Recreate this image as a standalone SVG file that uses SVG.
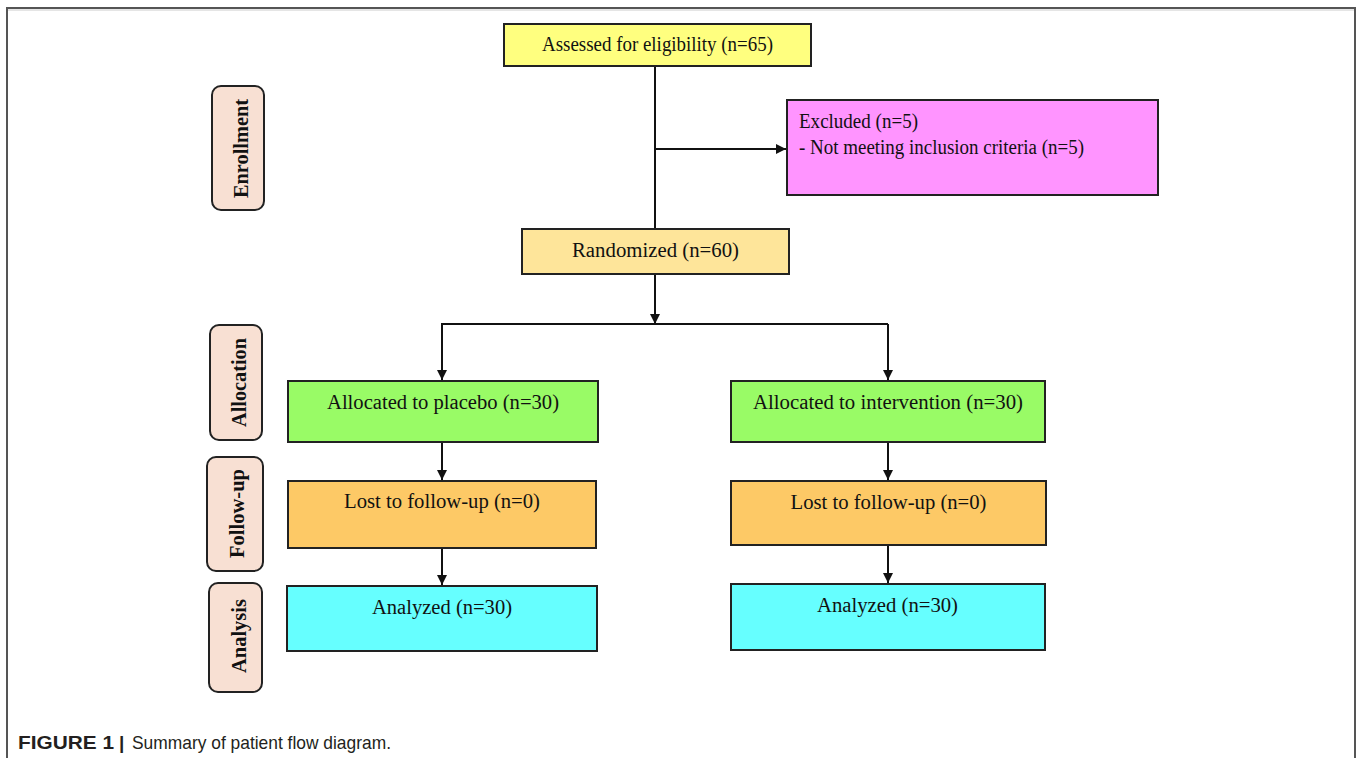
<svg xmlns="http://www.w3.org/2000/svg" width="1357" height="758" viewBox="0 0 1357 758">
<style>
.box{stroke:#222;stroke-width:2}
.side{fill:#F8E0D3;stroke:#222;stroke-width:2}
.t{font-family:"Liberation Serif","Times New Roman",serif;font-size:20.5px;fill:#111}
.st{font-family:"Liberation Serif","Times New Roman",serif;font-size:20px;font-weight:bold;fill:#111;text-anchor:middle}
.c{text-anchor:middle}
.ln{fill:none;stroke:#111;stroke-width:2}
.cap{font-family:"Liberation Sans",Arial,sans-serif;font-size:19px;fill:#231f20}
</style>
<defs>
<marker id="arr" viewBox="0 0 10 10" refX="10" refY="5" markerWidth="11" markerHeight="10" markerUnits="userSpaceOnUse" orient="auto">
<path d="M0,0 L10,5 L0,10 z" fill="#111"/>
</marker>
</defs>
<rect x="0" y="0" width="1357" height="758" fill="#fff"/>
<g id="frame" fill="none">
<polyline points="7,758 7,8 1355,8 1355,758" stroke="#555" stroke-width="2"/>
<line x1="8" y1="10" x2="1354" y2="10" stroke="#ccc" stroke-width="1"/>
</g>
<g id="connectors">
<line class="ln" x1="655" y1="66" x2="655" y2="229"/>
<line class="ln" x1="655" y1="149" x2="786" y2="149" marker-end="url(#arr)"/>
<line class="ln" x1="655" y1="274" x2="655" y2="324" marker-end="url(#arr)"/>
<line class="ln" x1="441" y1="324" x2="888" y2="324"/>
<line class="ln" x1="442" y1="324" x2="442" y2="380" marker-end="url(#arr)"/>
<line class="ln" x1="888" y1="324" x2="888" y2="380" marker-end="url(#arr)"/>
<line class="ln" x1="442" y1="442" x2="442" y2="480" marker-end="url(#arr)"/>
<line class="ln" x1="888" y1="442" x2="888" y2="480" marker-end="url(#arr)"/>
<line class="ln" x1="442" y1="548" x2="442" y2="585" marker-end="url(#arr)"/>
<line class="ln" x1="888" y1="545" x2="888" y2="583" marker-end="url(#arr)"/>
</g>
<g id="side-enrollment">
<rect class="side" x="212" y="86" width="52" height="124" rx="9"/>
<text class="st" transform="translate(248,148.5) rotate(-90)" textLength="99" lengthAdjust="spacingAndGlyphs">Enrollment</text>
</g>
<g id="side-allocation">
<rect class="side" x="210" y="325" width="52" height="115" rx="9"/>
<text class="st" transform="translate(246,382.5) rotate(-90)" textLength="89" lengthAdjust="spacingAndGlyphs">Allocation</text>
</g>
<g id="side-followup">
<rect class="side" x="207" y="457" width="56" height="114" rx="9"/>
<text class="st" transform="translate(244,513.5) rotate(-90)" textLength="89" lengthAdjust="spacingAndGlyphs">Follow-up</text>
</g>
<g id="side-analysis">
<rect class="side" x="209" y="583" width="53" height="109" rx="9"/>
<text class="st" transform="translate(246,636) rotate(-90)" textLength="74" lengthAdjust="spacingAndGlyphs">Analysis</text>
</g>
<g id="assessed">
<rect class="box" x="504" y="24" width="307" height="42" fill="#FFFF7F"/>
<text class="t c" x="657.5" y="51" textLength="231" lengthAdjust="spacingAndGlyphs">Assessed for eligibility (n=65)</text>
</g>
<g id="excluded">
<rect class="box" x="787" y="100" width="371" height="95" fill="#FF94FF"/>
<text class="t" x="799" y="128" textLength="119" lengthAdjust="spacingAndGlyphs">Excluded (n=5)</text>
<text class="t" x="799" y="154" textLength="285" lengthAdjust="spacingAndGlyphs">- Not meeting inclusion criteria (n=5)</text>
</g>
<g id="randomized">
<rect class="box" x="522" y="229" width="267" height="45" fill="#FEE59A"/>
<text class="t c" x="655.5" y="257" textLength="167" lengthAdjust="spacingAndGlyphs">Randomized (n=60)</text>
</g>
<g id="alloc-placebo">
<rect class="box" x="288" y="381" width="310" height="61" fill="#99FB66"/>
<text class="t c" x="443" y="409" textLength="232" lengthAdjust="spacingAndGlyphs">Allocated to placebo (n=30)</text>
</g>
<g id="alloc-intervention">
<rect class="box" x="731" y="381" width="314" height="61" fill="#99FB66"/>
<text class="t c" x="888" y="409" textLength="270" lengthAdjust="spacingAndGlyphs">Allocated to intervention (n=30)</text>
</g>
<g id="lost-placebo">
<rect class="box" x="288" y="481" width="308" height="67" fill="#FDC966"/>
<text class="t c" x="442" y="508" textLength="196" lengthAdjust="spacingAndGlyphs">Lost to follow-up (n=0)</text>
</g>
<g id="lost-intervention">
<rect class="box" x="731" y="481" width="315" height="64" fill="#FDC966"/>
<text class="t c" x="888.5" y="508.5" textLength="196" lengthAdjust="spacingAndGlyphs">Lost to follow-up (n=0)</text>
</g>
<g id="analyzed-placebo">
<rect class="box" x="287" y="586" width="310" height="65" fill="#66FFFF"/>
<text class="t c" x="442" y="614" textLength="140" lengthAdjust="spacingAndGlyphs">Analyzed (n=30)</text>
</g>
<g id="analyzed-intervention">
<rect class="box" x="731" y="584" width="314" height="66" fill="#66FFFF"/>
<text class="t c" x="887.5" y="612" textLength="141" lengthAdjust="spacingAndGlyphs">Analyzed (n=30)</text>
</g>
<g id="caption">
<text class="cap" x="18" y="749" font-weight="bold" textLength="96" lengthAdjust="spacingAndGlyphs">FIGURE 1</text>
<text class="cap" x="119" y="749" font-weight="bold">|</text>
<text class="cap" x="132" y="749" textLength="259" lengthAdjust="spacingAndGlyphs">Summary of patient flow diagram.</text>
</g>
</svg>
